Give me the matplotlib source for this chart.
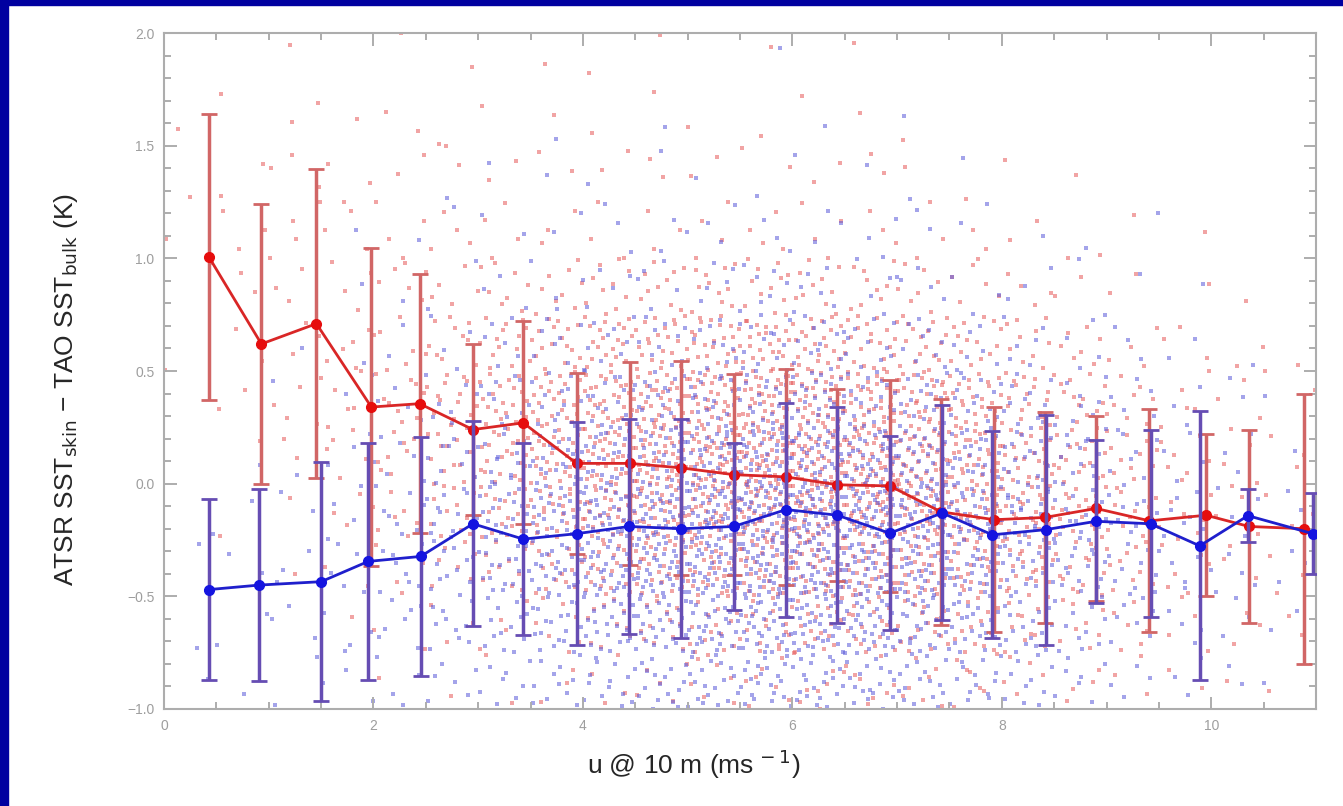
import numpy as np
import matplotlib
matplotlib.use("Agg")
import matplotlib.pyplot as plt
from matplotlib.ticker import MultipleLocator
from matplotlib.patches import Rectangle

plt.rcParams['font.family'] = ['Liberation Sans', 'DejaVu Sans']

# ---- data ----
red_x = [0.43, 0.93, 1.455, 1.98, 2.44, 2.95, 3.43, 3.94, 4.45, 4.94, 5.44,
         5.94, 6.43, 6.93, 7.42, 7.93, 8.41, 8.90, 9.41, 9.95, 10.36, 10.89]
red_mean = [1.005, 0.62, 0.71, 0.34, 0.355, 0.24, 0.27, 0.09, 0.09, 0.07, 0.04,
            0.03, -0.005, -0.01, -0.125, -0.16, -0.15, -0.11, -0.165, -0.14, -0.19, -0.20]
red_err = [0.635, 0.62, 0.685, 0.705, 0.575, 0.38, 0.45, 0.40, 0.45, 0.475, 0.445,
           0.48, 0.425, 0.47, 0.50, 0.50, 0.47, 0.41, 0.495, 0.36, 0.43, 0.60]

blue_x = [0.43, 0.91, 1.50, 1.95, 2.45, 2.95, 3.43, 3.94, 4.44, 4.94, 5.44,
          5.94, 6.43, 6.93, 7.43, 7.91, 8.42, 8.90, 9.42, 9.89, 10.35, 10.97]
blue_mean = [-0.47, -0.45, -0.435, -0.345, -0.323, -0.178, -0.246, -0.222, -0.19, -0.20, -0.19,
             -0.115, -0.14, -0.22, -0.13, -0.227, -0.204, -0.167, -0.178, -0.276, -0.142, -0.222]
blue_err = [0.40, 0.425, 0.53, 0.525, 0.53, 0.455, 0.425, 0.494, 0.475, 0.485, 0.37,
            0.475, 0.48, 0.43, 0.477, 0.46, 0.51, 0.363, 0.415, 0.597, 0.118, 0.18]

# estimated dot counts of the scatter cloud: x bins of 0.5 (0..11), y bins of 0.25 (top row 1.75-2.0)
cloud_x_edges = np.arange(0, 11.01, 0.5)
cloud_y_edges = np.arange(2.0, -1.01, -0.25)
red_counts = [
    [0, 0, 1, 0, 1, 1, 0, 1, 1, 1, 0, 1, 0, 1, 0, 0, 0, 0, 0, 0, 0, 0],
    [1, 1, 2, 1, 2, 1, 1, 1, 1, 1, 1, 1, 1, 1, 1, 0, 0, 0, 0, 0, 0, 0],
    [1, 2, 3, 3, 2, 2, 2, 2, 2, 2, 2, 2, 2, 2, 1, 1, 1, 1, 0, 0, 0, 0],
    [1, 3, 4, 3, 4, 4, 4, 3, 3, 3, 4, 4, 4, 3, 3, 2, 2, 1, 1, 1, 0, 0],
    [1, 2, 3, 4, 5, 6, 8, 9, 10, 10, 11, 11, 10, 9, 7, 6, 4, 3, 2, 1, 1, 0],
    [1, 2, 3, 5, 7, 10, 14, 17, 20, 22, 24, 25, 24, 21, 17, 14, 10, 7, 4, 3, 2, 1],
    [0, 2, 4, 6, 9, 14, 19, 25, 30, 34, 37, 39, 38, 35, 30, 25, 19, 13, 8, 5, 3, 2],
    [0, 1, 2, 5, 9, 14, 21, 28, 35, 40, 44, 46, 46, 44, 38, 32, 24, 17, 11, 7, 4, 3],
    [0, 1, 1, 4, 7, 11, 17, 24, 31, 36, 41, 44, 45, 44, 39, 33, 25, 18, 11, 7, 4, 3],
    [0, 0, 1, 2, 4, 7, 10, 15, 21, 25, 29, 32, 33, 33, 30, 26, 21, 14, 10, 6, 3, 3],
    [0, 0, 0, 1, 2, 3, 4, 7, 10, 12, 15, 17, 18, 18, 17, 14, 11, 8, 6, 4, 3, 2],
    [0, 0, 0, 0, 1, 1, 2, 3, 4, 5, 7, 7, 8, 8, 7, 7, 5, 4, 3, 2, 1, 1],
]
blue_counts = [
    [0, 0, 0, 0, 0, 0, 0, 0, 0, 0, 0, 1, 0, 0, 0, 0, 0, 0, 0, 0, 0, 0],
    [0, 0, 0, 0, 0, 0, 0, 1, 0, 1, 0, 0, 1, 0, 1, 0, 0, 0, 0, 0, 0, 0],
    [0, 0, 0, 0, 0, 1, 1, 1, 1, 1, 1, 1, 1, 1, 1, 1, 0, 0, 0, 0, 0, 0],
    [0, 0, 0, 1, 1, 1, 2, 2, 3, 3, 3, 3, 3, 3, 2, 2, 1, 1, 1, 0, 0, 0],
    [0, 0, 0, 1, 1, 2, 3, 4, 4, 5, 6, 6, 6, 5, 4, 3, 3, 2, 1, 1, 0, 0],
    [0, 0, 1, 1, 2, 4, 6, 7, 9, 10, 11, 12, 12, 10, 9, 7, 6, 4, 3, 2, 1, 0],
    [0, 0, 1, 2, 4, 7, 10, 13, 16, 19, 21, 22, 22, 20, 17, 14, 11, 8, 5, 3, 2, 1],
    [0, 1, 1, 3, 6, 10, 14, 20, 25, 29, 33, 36, 36, 33, 29, 24, 18, 13, 8, 4, 3, 1],
    [1, 1, 2, 4, 8, 13, 19, 26, 34, 40, 45, 48, 48, 45, 39, 32, 25, 17, 11, 7, 4, 3],
    [1, 2, 3, 5, 8, 12, 18, 25, 32, 37, 41, 44, 44, 41, 36, 29, 22, 15, 10, 6, 4, 3],
    [1, 2, 3, 4, 7, 10, 13, 18, 23, 27, 30, 33, 33, 30, 26, 21, 16, 11, 7, 4, 3, 2],
    [1, 1, 2, 3, 4, 6, 8, 11, 14, 17, 19, 21, 21, 19, 17, 14, 10, 7, 4, 3, 2, 1],
]

x_ticks = [0, 2, 4, 6, 8, 10]
y_ticks = [-1.0, -0.5, 0.0, 0.5, 1.0, 1.5, 2.0]


def radical_inverse(i, base):
    f, r = 1.0, 0.0
    while i > 0:
        f /= base
        r += f * (i % base)
        i //= base
    return r


def cloud_points(counts, offset):
    """Spread each cell's dot count evenly over the cell (Halton layout)."""
    xs, ys = [], []
    k = offset
    for r, row in enumerate(counts):
        y_hi, y_lo = cloud_y_edges[r], cloud_y_edges[r + 1]
        for c, n in enumerate(row):
            x_lo, x_hi = cloud_x_edges[c], cloud_x_edges[c + 1]
            for _ in range(n):
                k += 1
                xs.append(x_lo + (x_hi - x_lo) * radical_inverse(k, 2))
                ys.append(y_lo + (y_hi - y_lo) * radical_inverse(k, 3))
            k += 37
    return xs, ys


W, H = 1343, 806
fig = plt.figure(figsize=(W / 100, H / 100), dpi=100)
fig.patch.set_facecolor('white')

ax = fig.add_axes([164 / W, 1 - 709 / H, (1316 - 164) / W, (709 - 33) / H])

rx, ry = cloud_points(red_counts, 11)
bx, by = cloud_points(blue_counts, 5003)
ax.scatter(rx, ry, s=6, marker='s', color=(0.90, 0.35, 0.35), alpha=0.55, linewidths=0, zorder=1)
ax.scatter(bx, by, s=6, marker='s', color=(0.35, 0.35, 0.85), alpha=0.55, linewidths=0, zorder=1)

red_line = (0.85, 0.15, 0.15)
red_bar = (0.82, 0.40, 0.40)
blue_line = (0.12, 0.12, 0.80)
blue_bar = (0.40, 0.30, 0.70)

ax.errorbar(red_x, red_mean, yerr=red_err, fmt='none', ecolor=red_bar,
            elinewidth=2.5, capsize=6, capthick=2, zorder=3)
ax.plot(red_x, red_mean, '-', color=red_line, lw=2, zorder=4)
ax.plot(red_x, red_mean, 'o', color=(0.90, 0.05, 0.05), ms=7, zorder=5)

ax.errorbar(blue_x, blue_mean, yerr=blue_err, fmt='none', ecolor=blue_bar,
            elinewidth=2.5, capsize=6, capthick=2, zorder=6)
ax.plot(blue_x, blue_mean, '-', color=blue_line, lw=2, zorder=7)
ax.plot(blue_x, blue_mean, 'o', color=(0.08, 0.08, 0.88), ms=7, zorder=8)

ax.set_xlim(0, 11)
ax.set_ylim(-1.0, 2.0)
ax.set_xticks(x_ticks)
ax.set_xticklabels([str(v) for v in x_ticks])
ax.set_yticks(y_ticks)
ax.set_yticklabels([f"{v:.1f}".replace('-', '\u2212') for v in y_ticks])
ax.xaxis.set_minor_locator(MultipleLocator(0.5))
ax.yaxis.set_minor_locator(MultipleLocator(0.1))

gray = (0.68, 0.68, 0.68)
for s in ax.spines.values():
    s.set_color(gray)
    s.set_linewidth(1.5)
ax.tick_params(which='both', direction='in', top=True, right=True, color=gray,
               labelcolor=(0.62, 0.62, 0.62), labelsize=10, width=1.4)
ax.tick_params(which='major', length=9, pad=7)
ax.tick_params(which='minor', length=5)

fig.text(694 / W, 1 - 764 / H, 'u @ 10 m (ms$^{\\,-1}$)', ha='center', va='center',
         fontsize=19, color=(0.15, 0.15, 0.15))
fig.text(66 / W, 1 - 389 / H, 'ATSR SST$_{\\mathrm{skin}}$ \u2212 TAO SST$_{\\mathrm{bulk}}$ (K)',
         ha='center', va='center', rotation=90, fontsize=19, color=(0.15, 0.15, 0.15))

# dark blue slide frame on left and top
fig.patches.append(Rectangle((0, 0), 8 / W, 1, transform=fig.transFigure,
                             color='#0000a0', zorder=10))
fig.patches.append(Rectangle((0, 1 - 5 / H), 1, 5 / H, transform=fig.transFigure,
                             color='#0000a0', zorder=10))

fig.savefig('out.png', dpi=100)
